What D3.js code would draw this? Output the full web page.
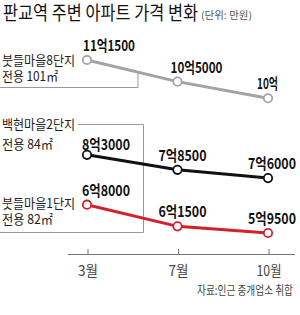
<!DOCTYPE html>
<html>
<head>
<meta charset="utf-8">
<script src="https://cdn.jsdelivr.net/npm/d3@7"></script>
<style>
  body { margin: 0; background: #fff; }
  svg text { font-family: "Noto Sans CJK KR", "Noto Sans", sans-serif; }
</style>
</head>
<body>
<script>
const months = ["3월", "7월", "10월"];
const seriesNames = ["붓들마을8단지", "백현마을2단지", "붓들마을1단지"];
const seriesSizes = ["전용 101㎡", "전용 84㎡", "전용 82㎡"];
const bundeul8 = [111500, 105000, 100000];
const baekhyeon2 = [83000, 78500, 76000];
const bundeul1 = [68000, 61500, 59500];
const valueLabels = [
  ["11억1500", "10억5000", "10억"],
  ["8억3000", "7억8500", "7억6000"],
  ["6억8000", "6억1500", "5억9500"]
];

const w = 300, h = 315;
const svg = d3.select("body").append("svg")
  .attr("width", w)
  .attr("height", h);

const x = d3.scalePoint()
  .domain(months)
  .range([87, 268]);

const y = d3.scaleLinear()
  .domain([59500, 111500])
  .range([233, 60]);

const series = [
  {name: seriesNames[0], size: seriesSizes[0], values: bundeul8, color: "#a3a3a3", labels: valueLabels[0]},
  {name: seriesNames[1], size: seriesSizes[1], values: baekhyeon2, color: "#111111", labels: valueLabels[1]},
  {name: seriesNames[2], size: seriesSizes[2], values: bundeul1, color: "#d3202b", labels: valueLabels[2]}
];

// title
svg.append("text")
  .attr("x", 3).attr("y", 20)
  .attr("font-size", 19)
  .attr("textLength", 195)
  .attr("lengthAdjust", "spacingAndGlyphs")
  .attr("fill", "#111")
  .text("판교역 주변 아파트 가격 변화");

svg.append("text")
  .attr("x", 201).attr("y", 19)
  .attr("font-size", 10)
  .attr("textLength", 51)
  .attr("lengthAdjust", "spacingAndGlyphs")
  .attr("fill", "#555")
  .text("(단위: 만원)");

// bracket lines next to the left labels
const bracket = d3.line();
const bx = 138;
const x0 = x(months[0]), x1 = x(months[1]);
const grayAt = y(bundeul8[0]) + (bx - x0) / (x1 - x0) * (y(bundeul8[1]) - y(bundeul8[0]));
svg.append("path")
  .attr("d", bracket([[0, 87.5], [bx, 87.5], [bx, grayAt]]))
  .attr("fill", "none").attr("stroke", "#999").attr("stroke-width", 1);
svg.append("path")
  .attr("d", bracket([[78, 124.5], [143.5, 124.5], [143.5, 232.5], [0, 232.5]]))
  .attr("fill", "none").attr("stroke", "#999").attr("stroke-width", 1);

// left series labels
const labelY = [[65, 81], [129, 149], [208, 224]];
series.forEach((s, i) => {
  svg.append("text")
    .attr("x", 2).attr("y", labelY[i][0])
    .attr("font-size", 13)
    .attr("textLength", 73)
    .attr("lengthAdjust", "spacingAndGlyphs")
    .attr("fill", "#222")
    .text(s.name);
  svg.append("text")
    .attr("x", 2).attr("y", labelY[i][1])
    .attr("font-size", 13)
    .attr("textLength", i == 0 ? 56 : 51)
    .attr("lengthAdjust", "spacingAndGlyphs")
    .attr("fill", "#222")
    .text(s.size);
});

// axis
const xAxis = d3.axisTop(x).tickSize(5).tickFormat("");
const axisG = svg.append("g")
  .attr("transform", "translate(0,254)")
  .call(xAxis);
axisG.select(".domain").remove();
axisG.selectAll(".tick line").attr("stroke", "#777");
axisG.selectAll(".tick").attr("transform", d => "translate(" + (x(d) + 1) + ",0)");
svg.append("line")
  .attr("x1", 68).attr("x2", 295)
  .attr("y1", 254.5).attr("y2", 254.5)
  .attr("stroke", "#777");

svg.selectAll(".month")
  .data(months)
  .enter().append("text")
  .attr("class", "month")
  .attr("x", d => x(d) + 1)
  .attr("y", 276)
  .attr("text-anchor", "middle")
  .attr("font-size", 15)
  .attr("textLength", d => d.length == 2 ? 20 : 25)
  .attr("lengthAdjust", "spacingAndGlyphs")
  .attr("fill", "#444")
  .text(d => d);

// lines and points
const line = d3.line()
  .x((d, i) => x(months[i]))
  .y(d => y(d));

const labelWidth = {3: 21, 6: 48, 7: 52};
const grayShift = [-4, -7, -11], darkShift = [-5, -19, -20];

series.forEach((s, si) => {
  svg.append("path")
    .datum(s.values)
    .attr("d", line)
    .attr("fill", "none")
    .attr("stroke", s.color)
    .attr("stroke-width", 3);

  svg.selectAll(".pt" + si)
    .data(s.values)
    .enter().append("circle")
    .attr("class", "pt" + si)
    .attr("cx", (d, i) => x(months[i]))
    .attr("cy", d => y(d))
    .attr("r", 4.2)
    .attr("fill", "#fff")
    .attr("stroke", s.color)
    .attr("stroke-width", 1.8);

  svg.selectAll(".lbl" + si)
    .data(s.values)
    .enter().append("text")
    .attr("class", "lbl" + si)
    .attr("x", (d, i) => x(months[i]) + (si == 0 ? grayShift[i] : darkShift[i]))
    .attr("y", (d, i) => y(d) - (si == 1 && i == 0 ? 5 : 9))
    .attr("font-size", 15)
    .attr("font-weight", "bold")
    .attr("textLength", (d, i) => labelWidth[s.labels[i].length])
    .attr("lengthAdjust", "spacingAndGlyphs")
    .attr("fill", "#111")
    .text((d, i) => s.labels[i]);
});

svg.append("text")
  .attr("x", 197).attr("y", 295)
  .attr("font-size", 12)
  .attr("textLength", 96)
  .attr("lengthAdjust", "spacingAndGlyphs")
  .attr("fill", "#444")
  .text("자료:인근 중개업소 취합");
</script>
</body>
</html>
